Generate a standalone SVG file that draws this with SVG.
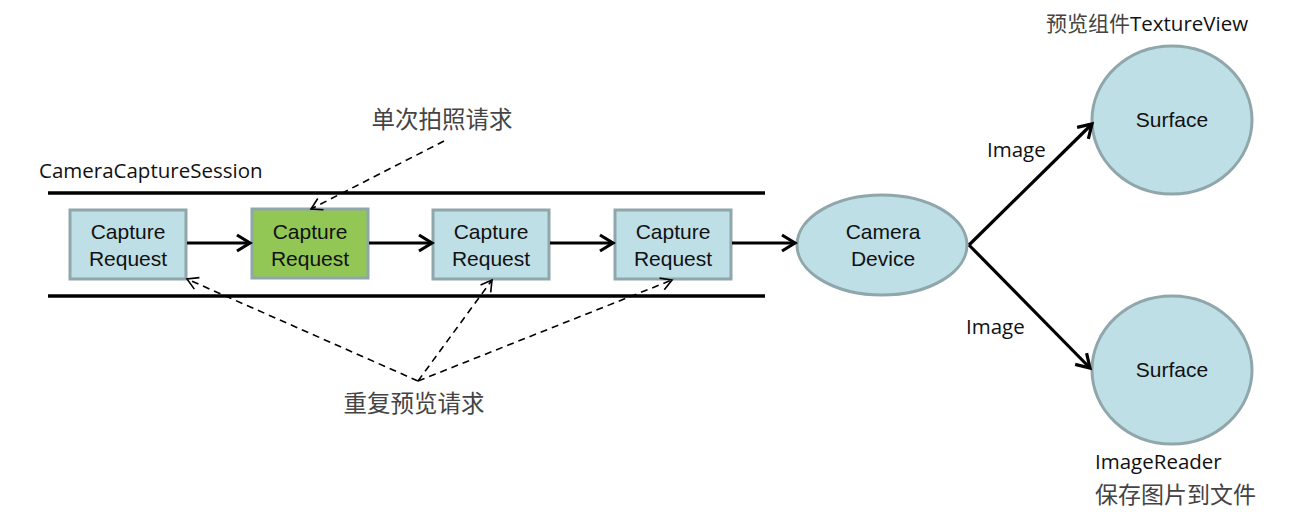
<svg xmlns="http://www.w3.org/2000/svg" width="1316" height="514" viewBox="0 0 1316 514">
<defs>
<marker id="open" viewBox="0 0 20 20" refX="17" refY="10" markerWidth="20" markerHeight="20" markerUnits="userSpaceOnUse" orient="auto">
<path d="M4,2 L17,10 L4,18" fill="none" stroke="#000" stroke-width="3.2"/>
</marker>
<marker id="thin" viewBox="0 0 20 20" refX="17" refY="10" markerWidth="18" markerHeight="18" markerUnits="userSpaceOnUse" orient="auto">
<path d="M5,3 L17,10 L5,17" fill="none" stroke="#000" stroke-width="1.8"/>
</marker>
</defs>
<style>
.box{fill:#bfdfe6;stroke:#8fa6ab;stroke-width:3}
.green{fill:#92c756;stroke:#8fa6ab;stroke-width:3}
.t{font-family:"Liberation Sans",Arial,sans-serif;font-size:21px;fill:#111;text-anchor:middle}
.lbl{font-family:"Open Sans","Noto Sans",sans-serif;font-size:20.5px;fill:#111}
.cn{font-family:"Noto Sans CJK SC",sans-serif;font-size:23.5px;fill:#444}
.rail{stroke:#000;stroke-width:3.5}
.solid{stroke:#000;stroke-width:3.2;fill:none;marker-end:url(#open)}
.dash{stroke:#000;stroke-width:1.6;stroke-dasharray:7,5;fill:none;marker-end:url(#thin)}
</style>
<rect width="1316" height="514" fill="#fff"/>
<g id="session">
<line class="rail" x1="48" y1="193" x2="765" y2="193"/>
<line class="rail" x1="48" y1="296" x2="765" y2="296"/>
<text class="lbl" x="39" y="178">CameraCaptureSession</text>
</g>
<g id="req1"><rect class="box" x="70" y="210" width="116" height="69"/><text class="t" x="128" y="239">Capture</text><text class="t" x="128" y="266">Request</text></g>
<g id="req2"><rect class="green" x="252" y="209" width="116" height="69"/><text class="t" x="310" y="239">Capture</text><text class="t" x="310" y="266">Request</text></g>
<g id="req3"><rect class="box" x="433" y="210" width="116" height="69"/><text class="t" x="491" y="239">Capture</text><text class="t" x="491" y="266">Request</text></g>
<g id="req4"><rect class="box" x="615" y="210" width="116" height="69"/><text class="t" x="673" y="239">Capture</text><text class="t" x="673" y="266">Request</text></g>
<g id="device"><ellipse class="box" cx="882" cy="245" rx="85" ry="50"/><text class="t" x="883" y="239">Camera</text><text class="t" x="883" y="266">Device</text></g>
<g id="surface1"><ellipse class="box" cx="1172" cy="120" rx="80" ry="74"/><text class="t" x="1172" y="127">Surface</text>
<text class="cn" x="1046" y="31" style="font-size:21px">预览组件<tspan class="lbl" style="fill:#111">TextureView</tspan></text></g>
<g id="surface2"><ellipse class="box" cx="1172" cy="370" rx="80" ry="74"/><text class="t" x="1172" y="377">Surface</text>
<text class="lbl" x="1095" y="469">ImageReader</text>
<text class="cn" x="1095" y="503" style="font-size:23px">保存图片到文件</text></g>
<g id="labels">
<text class="cn" x="442" y="128" text-anchor="middle">单次拍照请求</text>
<text class="cn" x="414" y="412" text-anchor="middle">重复预览请求</text>
<text class="lbl" x="987" y="157">Image</text>
<text class="lbl" x="966" y="334">Image</text>
</g>
<g id="connectors">
<line class="solid" x1="187" y1="243" x2="250" y2="243"/>
<line class="solid" x1="369" y1="243" x2="432" y2="243"/>
<line class="solid" x1="550" y1="243" x2="613" y2="243"/>
<line class="solid" x1="732" y1="243" x2="795" y2="243"/>
<line class="solid" x1="969" y1="245" x2="1092" y2="124"/>
<line class="solid" x1="969" y1="245" x2="1090" y2="368"/>
<line class="dash" x1="444" y1="141" x2="311" y2="209"/>
<line class="dash" x1="418" y1="381" x2="187" y2="279"/>
<line class="dash" x1="418" y1="381" x2="492" y2="280"/>
<line class="dash" x1="418" y1="381" x2="672" y2="280"/>
</g>
</svg>
